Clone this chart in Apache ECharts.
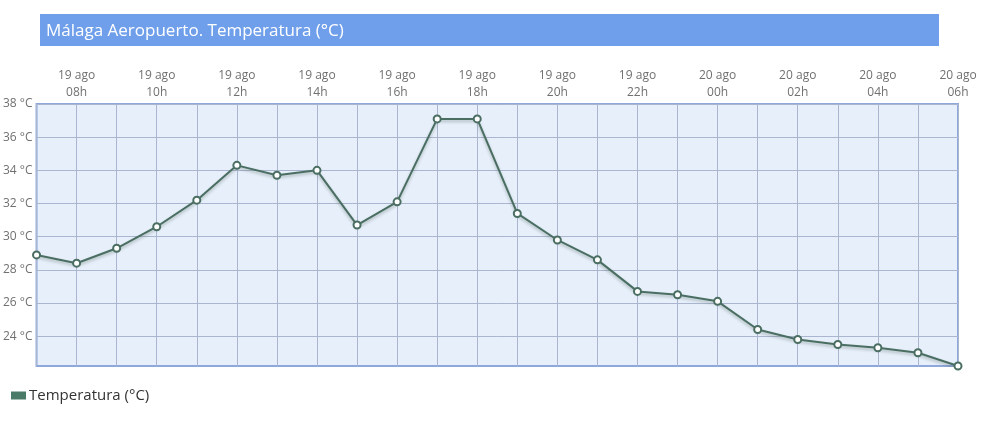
<!DOCTYPE html>
<html>
<head>
<meta charset="utf-8">
<script src="https://cdn.jsdelivr.net/npm/echarts@6/dist/echarts.min.js"></script>
<style>
html,body{margin:0;padding:0;background:#fff;}
#c{width:983px;height:440px;}
</style>
</head>
<body>
<div id="c"></div>
<script>
const hours = ['07h','08h','09h','10h','11h','12h','13h','14h','15h','16h','17h','18h','19h','20h','21h','22h','23h','00h','01h','02h','03h','04h','05h','06h'];
const days = ['19 ago','19 ago','19 ago','19 ago','19 ago','19 ago','19 ago','19 ago','19 ago','19 ago','19 ago','19 ago','19 ago','19 ago','19 ago','19 ago','19 ago','20 ago','20 ago','20 ago','20 ago','20 ago','20 ago','20 ago'];
const temperatura = [28.9,28.4,29.3,30.6,32.2,34.3,33.7,34.0,30.7,32.1,37.1,37.1,31.4,29.8,28.6,26.7,26.5,26.1,24.4,23.8,23.5,23.3,23.0,22.2];
const yTicks = [24,26,28,30,32,34,36,38];
const titleText = 'Málaga Aeropuerto. Temperatura (°C)';
const seriesName = 'Temperatura (°C)';

const categories = hours.map((h,i)=>days[i]+'\n'+h);
const chart = echarts.init(document.getElementById('c'), null, {renderer:'canvas'});
const lineColor = '#4a6e62';
chart.setOption({
  animation:false,
  textStyle:{fontFamily:'Open Sans'},
  graphic:[
    {type:'rect', left:40, top:14, shape:{width:899,height:32}, style:{fill:'#6f9fea'}, z:10},
    {type:'text', left:46, top:23, style:{text:titleText, fill:'#fff', font:'17px "Open Sans"'}, z:11}
  ],
  legend:{
    left:11, top:388, padding:0, itemWidth:15, itemHeight:8, itemGap:4,
    icon:'rect',
    textStyle:{fontSize:15, color:'#333', fontFamily:'Open Sans', padding:[0,0,0,-2]},
    data:[{name:seriesName, itemStyle:{color:'#4a7a68', borderWidth:0}}]
  },
  grid:{left:36, right:25, top:104, bottom:74, show:true, backgroundColor:'#e6effa', borderColor:'#8ea8dc', borderWidth:2},
  xAxis:{
    type:'category', position:'top', boundaryGap:false, data:categories,
    axisLine:{show:false}, axisTick:{show:false},
    axisLabel:{interval:0, color:'#707070', fontSize:12, lineHeight:17, margin:3, fontFamily:'Open Sans',
      formatter:(v,i)=> (i%2===1 ? v : '')},
    splitLine:{show:true, interval:0, lineStyle:{color:'#aab6cf', width:1}}
  },
  yAxis:{
    type:'value', min:22.2, max:38,
    axisLine:{show:false},
    axisTick:{show:false, customValues:yTicks},
    axisLabel:{customValues:yTicks, color:'#707070', fontSize:12, margin:4, fontFamily:'Open Sans',
      formatter:v=> v+' °C'},
    splitLine:{show:true, lineStyle:{color:'#aab6cf', width:1}}
  },
  series:[{
    name:seriesName, type:'line', data:temperatura,
    symbol:'circle', symbolSize:7, showAllSymbol:true,
    lineStyle:{color:lineColor, width:2, shadowColor:'rgba(60,80,70,0.35)', shadowBlur:3, shadowOffsetY:2},
    itemStyle:{color:'#ffffff', borderColor:lineColor, borderWidth:2},
    z:5
  }]
});
</script>
</body>
</html>
